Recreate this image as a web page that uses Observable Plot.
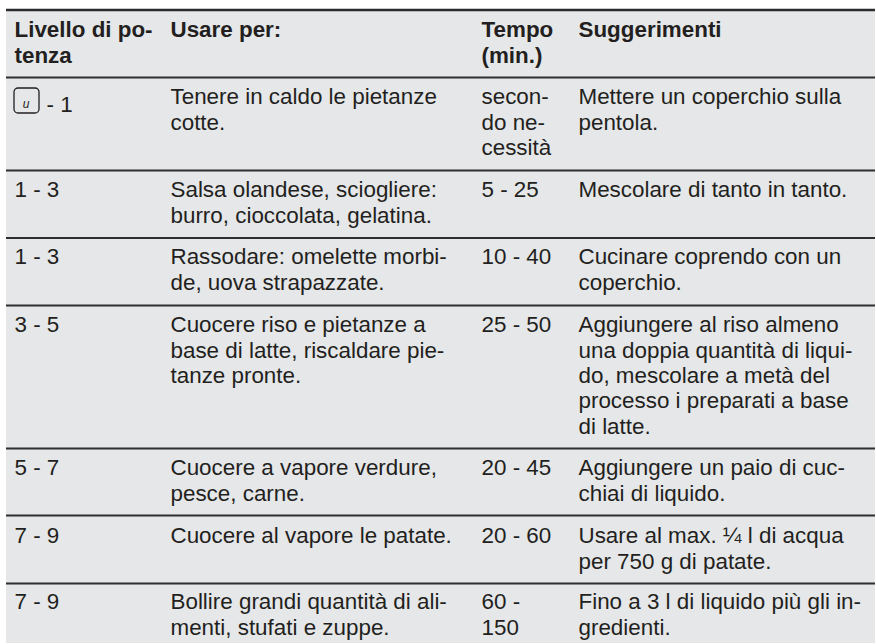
<!DOCTYPE html>
<html><head><meta charset="utf-8">
<script src="https://cdn.jsdelivr.net/npm/d3@7"></script>
<script src="https://cdn.jsdelivr.net/npm/@observablehq/plot@0.6"></script>
<style>html,body{margin:0;padding:0;background:#fff}svg{display:block}</style>
</head><body><div id="c"></div><script>
const columns = ["livello", "uso", "tempo", "note"];
const headers = ["Livello di po-\ntenza", "Usare per:", "Tempo\n(min.)", "Suggerimenti"];
const livello = ["- 1", "1 - 3", "1 - 3", "3 - 5", "5 - 7", "7 - 9", "7 - 9"];
const uso = [
  "Tenere in caldo le pietanze\ncotte.",
  "Salsa olandese, sciogliere:\nburro, cioccolata, gelatina.",
  "Rassodare: omelette morbi-\nde, uova strapazzate.",
  "Cuocere riso e pietanze a\nbase di latte, riscaldare pie-\ntanze pronte.",
  "Cuocere a vapore verdure,\npesce, carne.",
  "Cuocere al vapore le patate.",
  "Bollire grandi quantità di ali-\nmenti, stufati e zuppe."
];
const tempo = ["secon-\ndo ne-\ncessità", "5 - 25", "10 - 40", "25 - 50", "20 - 45", "20 - 60", "60 -\n150"];
const note = [
  "Mettere un coperchio sulla\npentola.",
  "Mescolare di tanto in tanto.",
  "Cucinare coprendo con un\ncoperchio.",
  "Aggiungere al riso almeno\nuna doppia quantità di liqui-\ndo, mescolare a metà del\nprocesso i preparati a base\ndi latte.",
  "Aggiungere un paio di cuc-\nchiai di liquido.",
  "Usare al max. ¼ l di acqua\nper 750 g di patate.",
  "Fino a 3 l di liquido più gli in-\ngredienti."
];
// table geometry (page pixels)
const columnLeft = [14, 170, 481, 578];
const ruleY = [9.5, 77, 170, 237.5, 305, 448, 515, 583];
const textTop = [19, 86, 179, 246, 314, 457, 525, 591];
const ink = "#231f20";

const cells = [];
headers.forEach((t, c) => cells.push({c, top: textTop[0], t, bold: true}));
[livello, uso, tempo, note].forEach((col, c) => col.forEach((t, r) => cells.push({c, top: textTop[r + 1], t, bold: false})));

const chart = Plot.plot({
  width: 876, height: 644, margin: 0,
  x: {type: "linear", domain: [0, 876], range: [0, 876], axis: null},
  y: {type: "linear", domain: [0, 644], range: [0, 644], axis: null},
  style: {background: "#fff", fontFamily: "'Liberation Sans', Arial, sans-serif"},
  marks: [
    Plot.rect([{}], {x1: 6, x2: 875, y1: 10, y2: 643, fill: "#e6e7e9"}),
    Plot.ruleY(ruleY.slice(0, 1), {x1: 6, x2: 875, stroke: "#2b2b2b", strokeWidth: 2.4}),
    Plot.ruleY(ruleY.slice(1), {x1: 6, x2: 875, stroke: "#2f2f30", strokeWidth: 1.8}),
    Plot.text(cells.filter(d => !d.bold && !(d.c === 0 && d.t === "- 1")), {
      x: d => columnLeft[d.c], y: "top", text: "t", textAnchor: "start", lineAnchor: "top",
      fontSize: 22.4, lineHeight: 1.13, fill: ink
    }),
    Plot.text(cells.filter(d => d.bold), {
      x: d => columnLeft[d.c], y: "top", text: "t", textAnchor: "start", lineAnchor: "top",
      fontSize: 22.4, lineHeight: 1.13, fontWeight: "bold", fill: ink
    }),
    Plot.text(cells.filter(d => d.t === "- 1"), {
      x: 46, y: "top", text: "t", textAnchor: "start", lineAnchor: "top", dy: 10,
      fontSize: 22.4, fill: ink
    }),
    Plot.rect([{}], {x1: 14, x2: 39, y1: 88, y2: 113, fill: "none", stroke: ink, strokeWidth: 1.3, rx: 4}),
    Plot.text(["u"], {x: 25.5, y: 104, fontSize: 12, fontStyle: "italic", fill: ink})
  ]
});
document.getElementById("c").append(chart);
</script></body></html>
